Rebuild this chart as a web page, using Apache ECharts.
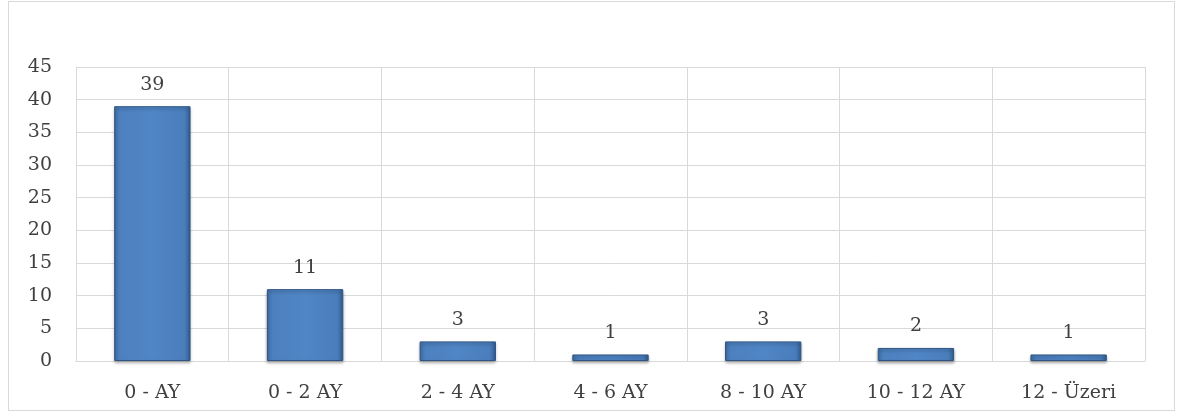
<!DOCTYPE html>
<html>
<head>
<meta charset="utf-8">
<script src="https://cdn.jsdelivr.net/npm/echarts@6/dist/echarts.min.js"></script>
<style>
html,body{margin:0;padding:0;background:#fff;}
#frame{position:absolute;left:8px;top:1px;width:1165px;height:408px;border:1px solid #d9d9d9;box-sizing:content-box;}
#chart{position:absolute;left:0;top:0;width:1177px;height:416px;}
</style>
</head>
<body>
<div id="frame"></div>
<div id="chart"></div>
<script>
const categories = ['0 - AY', '0 - 2 AY', '2 - 4 AY', '4 - 6 AY', '8 - 10 AY', '10 - 12 AY', '12 - Üzeri'];
const values = [39, 11, 3, 1, 3, 2, 1];
const yTicks = [0, 5, 10, 15, 20, 25, 30, 35, 40, 45];

const FONT = '"DejaVu Serif", "Liberation Serif", serif';
const TXT = '#404040';
const chart = echarts.init(document.getElementById('chart'), null, {renderer: 'canvas'});
chart.setOption({
  animation: false,
  grid: {left: 76, right: 32, top: 67, bottom: 55, containLabel: false},
  xAxis: {
    type: 'category',
    data: categories,
    axisLine: {show: true, lineStyle: {color: '#d9d9d9', width: 1}},
    axisTick: {show: false},
    splitLine: {show: true, lineStyle: {color: '#d9d9d9', width: 1}},
    axisLabel: {color: TXT, fontFamily: FONT, fontSize: 19, margin: 23, interval: 0}
  },
  yAxis: {
    type: 'value',
    min: yTicks[0],
    max: yTicks[yTicks.length - 1],
    interval: yTicks[1] - yTicks[0],
    axisLine: {show: true, lineStyle: {color: '#d9d9d9', width: 1}},
    axisTick: {show: false},
    splitLine: {show: true, lineStyle: {color: '#d9d9d9', width: 1}},
    axisLabel: {color: TXT, fontFamily: FONT, fontSize: 19, margin: 24}
  },
  series: [{
    type: 'bar',
    data: values,
    barWidth: '50%',
    itemStyle: {
      color: new echarts.graphic.LinearGradient(0, 0, 1, 0, [
        {offset: 0, color: '#3f6fa8'},
        {offset: 0.08, color: '#4d80be'},
        {offset: 0.5, color: '#4f86c6'},
        {offset: 0.92, color: '#4a7dbb'},
        {offset: 1, color: '#345f94'}
      ]),
      borderColor: '#2f5583',
      borderWidth: 1,
      shadowColor: 'rgba(0,0,0,0.3)',
      shadowBlur: 3,
      shadowOffsetY: 2
    },
    label: {
      show: true,
      position: 'top',
      distance: 12,
      color: TXT,
      fontFamily: FONT,
      fontSize: 19
    }
  }]
});
</script>
</body>
</html>
